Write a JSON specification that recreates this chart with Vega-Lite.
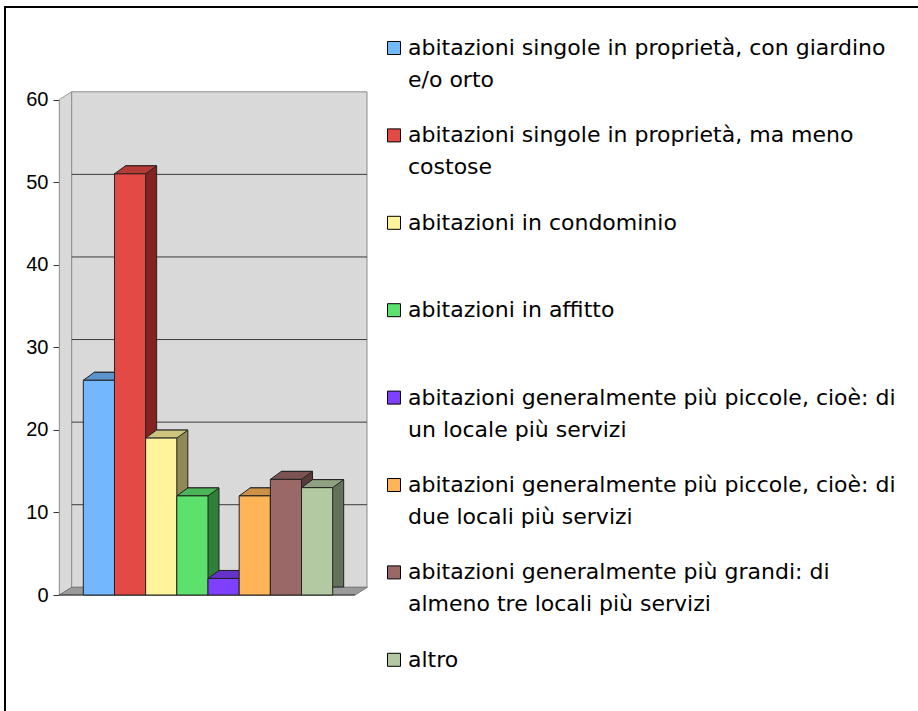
{
  "$schema": "https://vega.github.io/schema/vega-lite/v6.json",
  "width": 920,
  "height": 712,
  "autosize": {"type": "none"},
  "padding": {"left": 5, "top": 7, "right": 0, "bottom": 0},
  "background": "white",
  "config": {
    "view": {"stroke": "black", "strokeWidth": 2},
    "font": "Liberation Sans",
    "axis": {"grid": false}
  },
  "datasets": {
    "bars": [
      {"categoria": "abitazioni singole in proprietà, con giardino e/o orto", "valore": 26},
      {"categoria": "abitazioni singole in proprietà, ma meno costose", "valore": 51},
      {"categoria": "abitazioni in condominio", "valore": 19},
      {"categoria": "abitazioni in affitto", "valore": 12},
      {"categoria": "abitazioni generalmente più piccole, cioè: di un locale più servizi", "valore": 2},
      {"categoria": "abitazioni generalmente più piccole, cioè: di due locali più servizi", "valore": 12},
      {"categoria": "abitazioni generalmente più grandi: di almeno tre locali più servizi", "valore": 14},
      {"categoria": "altro", "valore": 13}
    ],
    "griglia": [{"v": 10}, {"v": 20}, {"v": 30}, {"v": 40}, {"v": 50}],
    "uno": [{"k": 1}]
  },
  "layer": [
    {
      "data": {"name": "uno"},
      "mark": {"type": "point", "filled": true, "opacity": 1, "fill": "#d9d9d9", "stroke": "#9a9a9a", "strokeWidth": 1, "size": 250000,
        "shape": "M 0 -0.991 L 0.0496 -1.0218 L 0.0496 0.9602 L 0 0.991 Z"},
      "encoding": {
        "x": {"datum": 0, "type": "quantitative", "scale": {"domain": [0, 1], "range": [54.3, 350]}, "axis": null},
        "y": {"datum": 30, "type": "quantitative", "scale": {"domain": [0, 60], "range": [588, 92.5], "nice": false}}
      }
    },
    {
      "data": {"name": "uno"},
      "mark": {"type": "rect", "fill": "#d9d9d9", "stroke": "#8c8c8c", "strokeWidth": 1,
        "xOffset": 12.4, "x2Offset": 12, "yOffset": -7.7, "y2Offset": -7.7},
      "encoding": {
        "x": {"datum": 0, "type": "quantitative", "scale": {"domain": [0, 1], "range": [54.3, 350]}, "axis": null},
        "x2": {"datum": 1},
        "y": {"datum": 0, "type": "quantitative", "scale": {"domain": [0, 60], "range": [588, 92.5], "nice": false}},
        "y2": {"datum": 60}
      }
    },
    {
      "data": {"name": "uno"},
      "mark": {"type": "point", "filled": true, "opacity": 1, "fill": "#9a9a9a", "stroke": "#7a7a7a", "strokeWidth": 1, "size": 90000,
        "shape": "M -0.9857 0 L 0.9857 0 L 1.0684 -0.0513 L -0.903 -0.0513 Z"},
      "encoding": {
        "x": {"datum": 0.5, "type": "quantitative", "scale": {"domain": [0, 1], "range": [54.3, 350]}, "axis": null},
        "y": {"datum": 0, "type": "quantitative", "scale": {"domain": [0, 60], "range": [588, 92.5], "nice": false}}
      }
    },
    {
      "data": {"name": "griglia"},
      "mark": {"type": "rule", "color": "#3c3c3c", "strokeWidth": 1, "xOffset": 12.4, "x2Offset": 12, "yOffset": -7.7},
      "encoding": {
        "x": {"datum": 0, "type": "quantitative", "scale": {"domain": [0, 1], "range": [54.3, 350]}, "axis": null},
        "x2": {"datum": 1},
        "y": {"field": "v", "type": "quantitative", "title": null, "scale": {"domain": [0, 60], "range": [588, 92.5], "nice": false}}
      }
    },
    {
      "data": {"name": "uno"},
      "mark": {"type": "rule", "color": "#333333", "strokeWidth": 1},
      "encoding": {
        "x": {"datum": 0, "type": "quantitative", "scale": {"domain": [0, 1], "range": [54.3, 350]}, "axis": null},
        "x2": {"datum": 1},
        "y": {"datum": 0, "type": "quantitative", "scale": {"domain": [0, 60], "range": [588, 92.5], "nice": false}}
      }
    },
    {
      "data": {"name": "bars"},
      "mark": {"type": "bar", "stroke": "#222222", "strokeWidth": 1, "xOffset": 11, "x2Offset": 11, "yOffset": -8, "y2Offset": -8},
      "encoding": {
        "x": {"field": "categoria", "type": "nominal", "sort": null, "axis": null,
          "scale": {"range": [78.3, 327.7], "paddingInner": 0, "paddingOuter": 0}},
        "y": {"field": "valore", "type": "quantitative", "title": null, "scale": {"domain": [0, 60], "range": [588, 92.5], "nice": false}},
        "color": {"field": "categoria", "type": "nominal", "legend": null,
          "scale": {"domain": [
            "abitazioni singole in proprietà, con giardino e/o orto",
            "abitazioni singole in proprietà, ma meno costose",
            "abitazioni in condominio",
            "abitazioni in affitto",
            "abitazioni generalmente più piccole, cioè: di un locale più servizi",
            "abitazioni generalmente più piccole, cioè: di due locali più servizi",
            "abitazioni generalmente più grandi: di almeno tre locali più servizi",
            "altro"],
            "range": ["#40678f", "#842222", "#8f8957", "#2f7e3a", "#47238f", "#8f6631", "#573a3a", "#65725a"]}}
      }
    },
    {
      "data": {"name": "bars"},
      "mark": {"type": "point", "filled": true, "opacity": 1, "stroke": "#222222", "strokeWidth": 1, "size": 1600,
        "shape": "M -0.78 0 L 0.78 0 L 1.33 -0.4 L -0.23 -0.4 Z"},
      "encoding": {
        "x": {"field": "categoria", "type": "nominal", "sort": null, "axis": null,
          "scale": {"range": [78.3, 327.7], "paddingInner": 0, "paddingOuter": 0}},
        "y": {"field": "valore", "type": "quantitative", "title": null, "scale": {"domain": [0, 60], "range": [588, 92.5], "nice": false}},
        "color": {"field": "categoria", "type": "nominal", "legend": null,
          "scale": {"domain": [
            "abitazioni singole in proprietà, con giardino e/o orto",
            "abitazioni singole in proprietà, ma meno costose",
            "abitazioni in condominio",
            "abitazioni in affitto",
            "abitazioni generalmente più piccole, cioè: di un locale più servizi",
            "abitazioni generalmente più piccole, cioè: di due locali più servizi",
            "abitazioni generalmente più grandi: di almeno tre locali più servizi",
            "altro"],
            "range": ["#5b93cc", "#b63b37", "#ccc37d", "#4ab456", "#6532cc", "#cc9146", "#7c5353", "#8fa181"]}}
      }
    },
    {
      "data": {"name": "bars"},
      "mark": {"type": "bar", "stroke": "#222222", "strokeWidth": 1},
      "encoding": {
        "x": {"field": "categoria", "type": "nominal", "sort": null, "axis": null,
          "scale": {"range": [78.3, 327.7], "paddingInner": 0, "paddingOuter": 0}},
        "y": {"field": "valore", "type": "quantitative", "scale": {"domain": [0, 60], "range": [588, 92.5], "nice": false},
          "axis": {"title": null, "values": [0, 10, 20, 30, 40, 50, 60], "offset": -54, "domainColor": "#000000", "tickColor": "#333333",
            "tickSize": 6, "labelFont": "Liberation Sans", "labelFontSize": 20, "labelColor": "#000000", "labelPadding": 5, "grid": false}},
        "color": {"field": "categoria", "type": "nominal",
          "scale": {"domain": [
            "abitazioni singole in proprietà, con giardino e/o orto",
            "abitazioni singole in proprietà, ma meno costose",
            "abitazioni in condominio",
            "abitazioni in affitto",
            "abitazioni generalmente più piccole, cioè: di un locale più servizi",
            "abitazioni generalmente più piccole, cioè: di due locali più servizi",
            "abitazioni generalmente più grandi: di almeno tre locali più servizi",
            "altro"],
            "range": ["#73b8ff", "#e34a45", "#fff49c", "#5ce16c", "#7f3fff", "#ffb557", "#9b6868", "#b3c9a1"]},
          "legend": {
            "orient": "none", "legendX": 378, "legendY": 30, "title": null, "columns": 1, "gridAlign": "all",
            "symbolType": "square", "symbolSize": 169, "symbolStrokeColor": "#000000", "symbolStrokeWidth": 1, "symbolOpacity": 1,
            "labelFont": "DejaVu Sans", "labelFontSize": 22, "labelColor": "#000000", "labelLimit": 0, "labelOffset": 3,
            "rowPadding": 33.4,
            "labelExpr": "datum.label == 'abitazioni singole in proprietà, con giardino e/o orto' ? ['abitazioni singole in proprietà, con giardino', 'e/o orto'] : datum.label == 'abitazioni singole in proprietà, ma meno costose' ? ['abitazioni singole in proprietà, ma meno', 'costose'] : datum.label == 'abitazioni generalmente più piccole, cioè: di un locale più servizi' ? ['abitazioni generalmente più piccole, cioè: di', 'un locale più servizi'] : datum.label == 'abitazioni generalmente più piccole, cioè: di due locali più servizi' ? ['abitazioni generalmente più piccole, cioè: di', 'due locali più servizi'] : datum.label == 'abitazioni generalmente più grandi: di almeno tre locali più servizi' ? ['abitazioni generalmente più grandi: di', 'almeno tre locali più servizi'] : datum.label",
            "encode": {"labels": {"update": {"lineHeight": {"value": 32}}}}
          }}
      }
    }
  ],
  "resolve": {"scale": {"x": "independent", "color": "independent"}}
}
